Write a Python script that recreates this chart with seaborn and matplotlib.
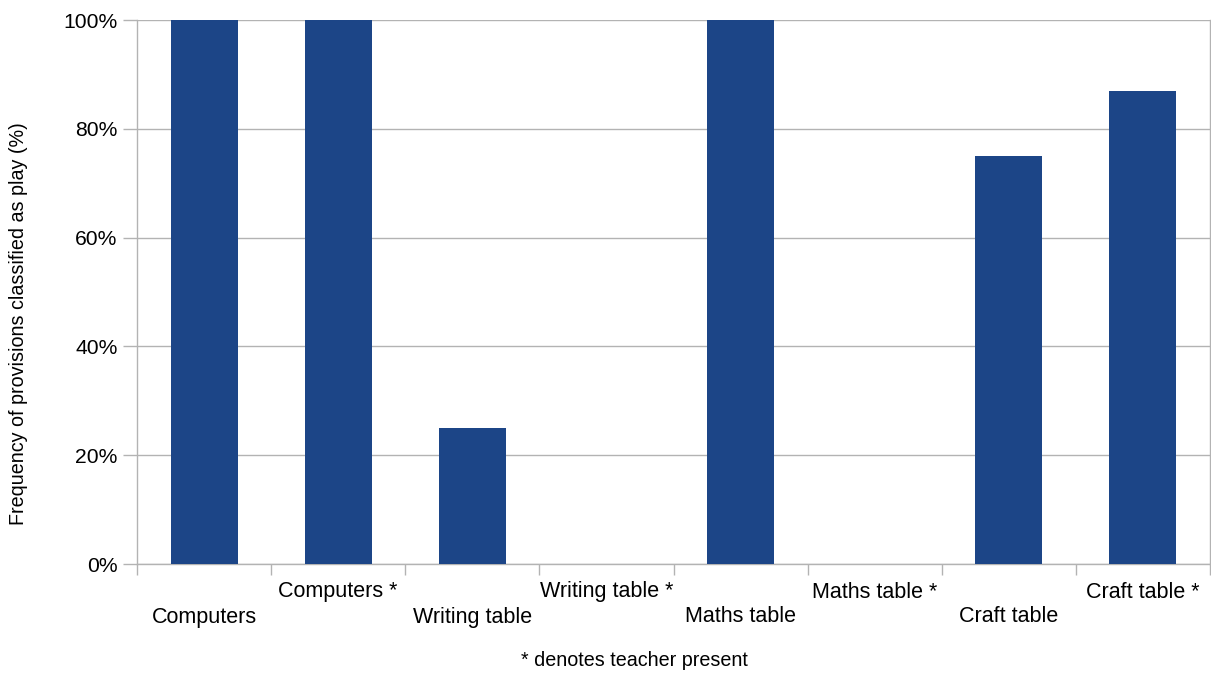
import matplotlib
matplotlib.use("Agg")
import matplotlib.pyplot as plt
import matplotlib.ticker as mticker
import numpy as np
import pandas as pd
import seaborn as sns

categories = ["Computers", "Computers *", "Writing table", "Writing table *",
              "Maths table", "Maths table *", "Craft table", "Craft table *"]
play_pct = [100, 100, 25, 0, 100, 0, 75, 87]
y_ticks = [0, 20, 40, 60, 80, 100]

sns.set_theme(style="white")
plt.rcParams["font.family"] = ["Liberation Sans", "DejaVu Sans"]

grid_col = "#b3b3b3"
bar_col = "#1c4587"

df = pd.DataFrame({"provision": categories, "pct": play_pct})

fig = plt.figure(figsize=(12.11, 6.73), dpi=100)
ax = fig.add_axes([137 / 1211, 1 - 564 / 673, (1210 - 137) / 1211, (564 - 20) / 673])

sns.barplot(data=df, x="provision", y="pct", color=bar_col, width=0.5,
            saturation=1, ax=ax, zorder=3, linewidth=0)

ax.set_ylim(0, 100)
ax.set_xlim(-0.5, len(categories) - 0.5)
ax.set_yticks(y_ticks)
ax.yaxis.set_major_formatter(mticker.FuncFormatter(lambda v, _: f"{v:.0f}%"))
ax.yaxis.grid(True, color=grid_col, linewidth=1, zorder=0)
ax.tick_params(axis="y", which="major", length=10, width=1, color=grid_col,
               labelsize=15.2, labelcolor="black", pad=4, left=True)

# category labels alternate between two rows
ax.set_xticks(range(len(categories)))
ax.set_xticklabels([])
ax.tick_params(axis="x", which="major", length=0)
for i, name in enumerate(categories):
    y_off = -53 if i % 2 == 0 else -28
    ax.annotate(name, xy=(i, 0), xycoords=("data", "axes fraction"),
                xytext=(0, y_off), textcoords="offset pixels",
                ha="center", va="center", fontsize=15.5, color="black")

# boundary ticks between categories
ax.set_xticks(np.arange(-0.5, len(categories), 1.0), minor=True)
ax.tick_params(axis="x", which="minor", length=8, width=1, color=grid_col, bottom=True)

for side in ["left", "right", "bottom"]:
    ax.spines[side].set_visible(True)
    ax.spines[side].set_color(grid_col)
    ax.spines[side].set_linewidth(1)
ax.spines["top"].set_visible(False)

ax.set_xlabel("")
ax.set_ylabel("")
fig.text(19 / 1211, 1 - 324 / 673, "Frequency of provisions classified as play (%)",
         rotation=90, ha="center", va="center", fontsize=14.2, color="black")
fig.text(634 / 1211, 1 - 661 / 673, "* denotes teacher present",
         ha="center", va="center", fontsize=14.2, color="black")

fig.savefig("out.png", dpi=100, facecolor="white")
